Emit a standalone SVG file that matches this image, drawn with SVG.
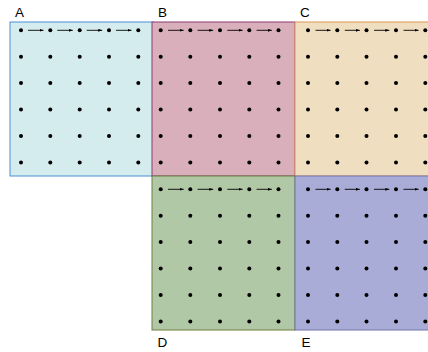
<svg xmlns="http://www.w3.org/2000/svg" xmlns:xlink="http://www.w3.org/1999/xlink" width="428" height="352" viewBox="0 0 428 352">
<style>
.lbl{font-family:"Liberation Sans",Arial,sans-serif;font-size:13.5px;fill:#000}
.dot{fill:#000}
.arr{stroke:#000;stroke-width:0.9;fill:none;marker-end:url(#ah)}
</style>
<defs>
<marker id="ah" markerWidth="6" markerHeight="6" refX="4" refY="3" orient="auto" markerUnits="userSpaceOnUse">
<path d="M0,1.6 L4,3 L0,4.4 Z" fill="#000"/>
</marker>
<g id="col">
<circle class="dot" cx="0" cy="0" r="2"/>
<circle class="dot" cx="0" cy="26.4" r="2"/>
<circle class="dot" cx="0" cy="52.8" r="2"/>
<circle class="dot" cx="0" cy="79.2" r="2"/>
<circle class="dot" cx="0" cy="105.6" r="2"/>
<circle class="dot" cx="0" cy="132.2" r="2"/>
</g>
</defs>
<rect width="428" height="352" fill="#fff"/>
<g id="A">
<rect x="10" y="22" width="143" height="154" fill="#d5ecee" stroke="#4a8fd6" stroke-width="1"/>
<use xlink:href="#col" x="21" y="30.3"/><use xlink:href="#col" x="50.3" y="30.3"/><use xlink:href="#col" x="79.7" y="30.3"/><use xlink:href="#col" x="109" y="30.3"/><use xlink:href="#col" x="138.3" y="30.3"/>
<text class="lbl" x="15" y="17">A</text>
</g>
<g id="B">
<rect x="152" y="22" width="143" height="154" fill="#d8afbb" stroke="#8e3b74" stroke-width="1"/>
<use xlink:href="#col" x="160.7" y="30.3"/><use xlink:href="#col" x="190.3" y="30.3"/><use xlink:href="#col" x="220" y="30.3"/><use xlink:href="#col" x="249.3" y="30.3"/><use xlink:href="#col" x="278.5" y="30.3"/>
<text class="lbl" x="158" y="17">B</text>
</g>
<g id="C">
<rect x="295" y="22" width="140" height="154" fill="#efdfc0" stroke="#de9850" stroke-width="1"/>
<use xlink:href="#col" x="308" y="30.3"/><use xlink:href="#col" x="337.3" y="30.3"/><use xlink:href="#col" x="366.5" y="30.3"/><use xlink:href="#col" x="396" y="30.3"/><use xlink:href="#col" x="425.3" y="30.3"/>
<text class="lbl" x="300" y="17">C</text>
</g>
<g id="D">
<rect x="152" y="176" width="143" height="154" fill="#b0c8a6" stroke="#6f7f3e" stroke-width="1"/>
<use xlink:href="#col" x="160.7" y="189.3"/><use xlink:href="#col" x="190.3" y="189.3"/><use xlink:href="#col" x="220" y="189.3"/><use xlink:href="#col" x="249.3" y="189.3"/><use xlink:href="#col" x="278.5" y="189.3"/>
<text class="lbl" x="157.5" y="347">D</text>
</g>
<g id="E">
<rect x="295" y="176" width="140" height="154" fill="#a9acd6" stroke="#7375ae" stroke-width="1"/>
<use xlink:href="#col" x="308" y="189.3"/><use xlink:href="#col" x="337.3" y="189.3"/><use xlink:href="#col" x="366.5" y="189.3"/><use xlink:href="#col" x="396" y="189.3"/><use xlink:href="#col" x="425.3" y="189.3"/>
<text class="lbl" x="301.5" y="347">E</text>
</g>
<g id="connectors">
<line class="arr" x1="28" y1="30.3" x2="43.5" y2="30.3"/>
<line class="arr" x1="57.3" y1="30.3" x2="72.8" y2="30.3"/>
<line class="arr" x1="86.7" y1="30.3" x2="102.2" y2="30.3"/>
<line class="arr" x1="116" y1="30.3" x2="131.5" y2="30.3"/>
<line class="arr" x1="168" y1="30.3" x2="183.6" y2="30.3"/>
<line class="arr" x1="197.6" y1="30.3" x2="213.2" y2="30.3"/>
<line class="arr" x1="227.3" y1="30.3" x2="242.6" y2="30.3"/>
<line class="arr" x1="256.6" y1="30.3" x2="271.8" y2="30.3"/>
<line class="arr" x1="315.5" y1="30.3" x2="330.6" y2="30.3"/>
<line class="arr" x1="344.8" y1="30.3" x2="359.8" y2="30.3"/>
<line class="arr" x1="374" y1="30.3" x2="389.3" y2="30.3"/>
<line class="arr" x1="403.5" y1="30.3" x2="418.6" y2="30.3"/>
<line class="arr" x1="168" y1="189.3" x2="183.6" y2="189.3"/>
<line class="arr" x1="197.6" y1="189.3" x2="213.2" y2="189.3"/>
<line class="arr" x1="227.3" y1="189.3" x2="242.6" y2="189.3"/>
<line class="arr" x1="256.6" y1="189.3" x2="271.8" y2="189.3"/>
<line class="arr" x1="315.5" y1="189.3" x2="330.6" y2="189.3"/>
<line class="arr" x1="344.8" y1="189.3" x2="359.8" y2="189.3"/>
<line class="arr" x1="374" y1="189.3" x2="389.3" y2="189.3"/>
<line class="arr" x1="403.5" y1="189.3" x2="418.6" y2="189.3"/>
</g>
</svg>
